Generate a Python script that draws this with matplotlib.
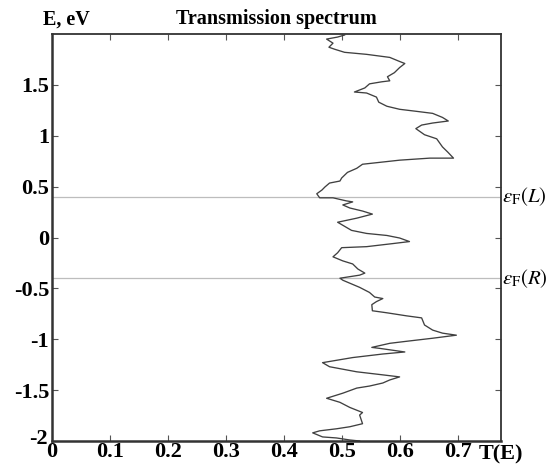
import matplotlib
matplotlib.use("Agg")
import matplotlib.pyplot as plt
import matplotlib.transforms as mtransforms

# Energy (eV) and transmission values, top to bottom
energy = [1.99, 1.97, 1.95, 1.91, 1.87, 1.85, 1.82, 1.80, 1.77, 1.73, 1.71, 1.67,
          1.62, 1.58, 1.54, 1.53, 1.51, 1.47, 1.43, 1.42, 1.38, 1.33, 1.29, 1.26,
          1.24, 1.22, 1.18, 1.145, 1.125, 1.105, 1.07, 1.01, 0.97, 0.89, 0.84, 0.78,
          0.78, 0.76, 0.72, 0.68, 0.64, 0.585, 0.555, 0.535, 0.496, 0.467, 0.43, 0.39,
          0.39, 0.36, 0.35, 0.32, 0.29, 0.26, 0.23, 0.19, 0.15, 0.10, 0.07, 0.04,
          0.02, -0.005, -0.04, -0.06, -0.09, -0.10, -0.15, -0.19, -0.23, -0.26, -0.31,
          -0.35, -0.37, -0.40, -0.42, -0.49, -0.54, -0.585, -0.60, -0.63, -0.66, -0.72,
          -0.74, -0.77, -0.79, -0.86, -0.91, -0.94, -0.96, -0.99, -1.02, -1.04, -1.08,
          -1.09, -1.125, -1.145, -1.18, -1.23, -1.27, -1.32, -1.35, -1.37, -1.40,
          -1.43, -1.46, -1.48, -1.53, -1.58, -1.62, -1.67, -1.72, -1.745, -1.83,
          -1.86, -1.88, -1.90, -1.92, -1.96, -1.97, -1.99, -2.0]
transmission = [0.505, 0.493, 0.474, 0.485, 0.478, 0.488, 0.505, 0.543, 0.583, 0.600, 0.609, 0.600,
                0.591, 0.579, 0.583, 0.569, 0.548, 0.540, 0.522, 0.543, 0.560, 0.564, 0.578, 0.600,
                0.629, 0.657, 0.674, 0.684, 0.657, 0.638, 0.628, 0.643, 0.664, 0.674, 0.683, 0.693,
                0.652, 0.600, 0.536, 0.526, 0.510, 0.500, 0.497, 0.479, 0.471, 0.466, 0.457, 0.462,
                0.485, 0.508, 0.519, 0.502, 0.514, 0.536, 0.553, 0.526, 0.493, 0.508, 0.517, 0.543,
                0.578, 0.600, 0.617, 0.588, 0.543, 0.500, 0.493, 0.485, 0.502, 0.519, 0.528,
                0.540, 0.531, 0.497, 0.502, 0.531, 0.548, 0.557, 0.571, 0.560, 0.552, 0.553,
                0.578, 0.612, 0.638, 0.643, 0.657, 0.674, 0.698, 0.657, 0.612, 0.583, 0.552,
                0.566, 0.609, 0.571, 0.519, 0.467, 0.479, 0.526, 0.571, 0.600, 0.583,
                0.571, 0.548, 0.526, 0.502, 0.474, 0.497, 0.514, 0.536, 0.531, 0.536,
                0.514, 0.491, 0.462, 0.450, 0.467, 0.491, 0.514, 0.531]

fermi_levels = [0.4, -0.4]
fermi_labels = [r"$\varepsilon_{\mathrm{F}}(L)$", r"$\varepsilon_{\mathrm{F}}(R)$"]
x_ticks = [0, 0.1, 0.2, 0.3, 0.4, 0.5, 0.6, 0.7]
x_ticklabels = ["0", "0.1", "0.2", "0.3", "0.4", "0.5", "0.6", "0.7"]
y_ticks = [-2, -1.5, -1, -0.5, 0, 0.5, 1, 1.5]
y_ticklabels = ["-2", "-1.5", "-1", "-0.5", "0", "0.5", "1", "1.5"]

plt.rcParams["font.family"] = ["Liberation Serif", "DejaVu Serif"]
plt.rcParams["mathtext.fontset"] = "stix"

fig = plt.figure(figsize=(5.58, 4.70), dpi=100)
ax = fig.add_axes([52/558, 1 - 441/470, (501-52)/558, (441-34)/470])

for lvl in fermi_levels:
    ax.axhline(lvl, color="#bdbdbd", lw=0.9, zorder=1)
ax.plot(transmission, energy, color="#404040", lw=0.95, zorder=2)

ax.set_xlim(0, 0.775)
ax.set_ylim(-2, 2)
ax.set_xticks(x_ticks)
ax.set_xticklabels(x_ticklabels)
ax.set_yticks(y_ticks)
ax.set_yticklabels(y_ticklabels)
ax.tick_params(direction="in", length=4, width=0.8, color="#555555",
               top=True, right=True, labelsize=16, pad=2)
ax.tick_params(axis="x", pad=1)
for lab in ax.get_xticklabels() + ax.get_yticklabels():
    lab.set_fontweight("bold")
# nudge the lowest y label up a little so it does not collide with the x "0"
shift = mtransforms.ScaledTranslation(-1/100, 5/100, fig.dpi_scale_trans)
ylabs = ax.get_yticklabels()
ylabs[0].set_transform(ylabs[0].get_transform() + shift)

for sp in ax.spines.values():
    sp.set_color("#333333")
    sp.set_linewidth(1.3)
ax.spines["left"].set_linewidth(1.8)
ax.spines["bottom"].set_linewidth(1.8)

ax.text(0.5, 1.012, "Transmission spectrum", transform=ax.transAxes,
        ha="center", va="bottom", fontsize=14.5, fontweight="bold")
ax.text(-0.02, 1.012, "E, eV", transform=ax.transAxes,
        ha="left", va="bottom", fontsize=14.5, fontweight="bold")
ax.text(1.0, -0.008, "T(E)", transform=ax.transAxes,
        ha="center", va="top", fontsize=16, fontweight="bold")
for lvl, lab in zip(fermi_levels, fermi_labels):
    ax.text(1.003, lvl, lab, transform=ax.get_yaxis_transform(),
            ha="left", va="center", fontsize=15)

fig.savefig("out.png", dpi=100)
